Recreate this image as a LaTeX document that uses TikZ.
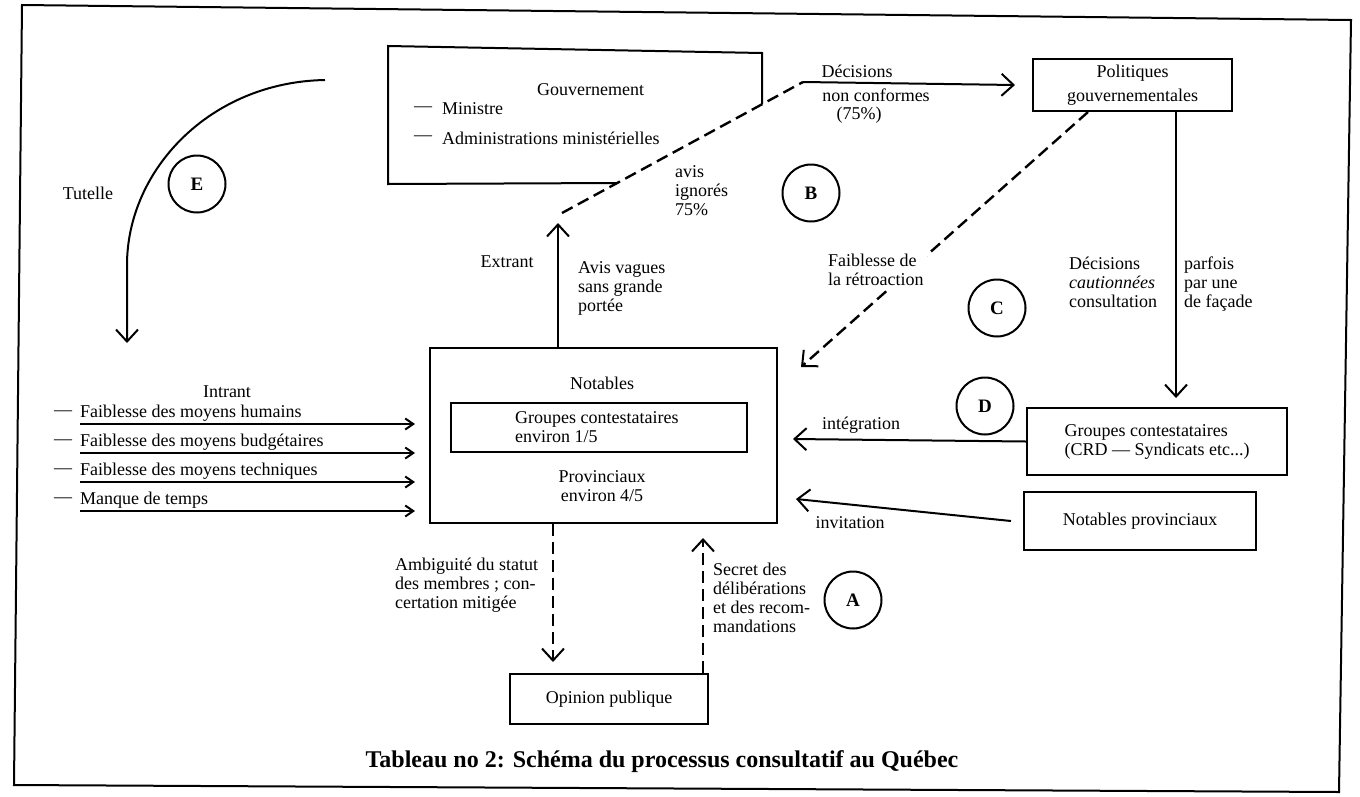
\documentclass[tikz,border=0pt]{standalone}
\usepackage{fontspec}
\setmainfont{Liberation Serif}
\usetikzlibrary{arrows.meta}
\begin{document}
\begin{tikzpicture}[x=1pt,y=-1pt,
  every node/.style={font=\fontsize{18}{19}\selectfont, inner sep=0pt},
  box/.style={draw, line width=2pt},
  dsh/.style={line width=2.4pt, dash pattern=on 12pt off 6pt},
  sline/.style={line width=2pt},
  barb/.style={-{Straight Barb[length=12pt,width=22pt,line width=2pt]}},
  smallbarb/.style={-{Straight Barb[length=8pt,width=11pt,line width=2pt]}},
  circ/.style={draw, circle, line width=2pt, minimum size=57pt, font=\fontsize{19}{20}\selectfont\bfseries}
]
\useasboundingbox (0,0) rectangle (1360,796);
% frame
\draw[line width=2pt] (22,5) -- (1351,20) -- (1339,792) -- (14,785) -- cycle;

% Tutelle
\coordinate (tutS) at (325,80);
\coordinate (tutE) at (127,343);
\draw[sline, barb] (tutS) .. controls (210,82) and (127,170) .. (127,265) -- (tutE);
\node[circ] (E) at (197,184) {E};
\node (tutelle) at (88,193) {Tutelle};

% Gouvernement
\node[anchor=west] (gouv) at (537,90) {Gouvernement};
\node[anchor=west] (dmin) at (414,109) {—};
\node[anchor=west] (min) at (442,109) {Ministre};
\node[anchor=west] (dadm) at (414,138) {—};
\node[anchor=west] (adm) at (442,138) {Administrations ministérielles};
\draw[line width=2pt] (617,183) -- (388,184) -- (388,46) -- (762,53) -- (762,104);

% Politiques
\node[box, minimum width=199pt, minimum height=52pt, align=center, font=\fontsize{18}{24}\selectfont] (pol) at (1132.5,85) {Politiques\\gouvernementales};

% dashed B line and Decisions arrow
\coordinate (dstart) at (562,213);
\coordinate (bend) at (803,82);
\draw[dsh] (dstart) -- (bend);
\draw[sline, barb] (bend) -- ([xshift=-17pt]pol.west);
\node (dec) at (857,71) {Décisions};
\node (nonc) at (876,95) {non conformes};
\node (p75) at (859,115) {(75\%)};
\node[circ] (B) at (811,193) {B};
\node[anchor=north west, align=left] (avis) at (675,165) {avis\\ignorés\\75\%};

% Notables box
\node[box, minimum width=347pt, minimum height=175pt] (not) at (603.5,435.5) {};
\node (nottxt) at (602,383) {Notables};
\node[box, minimum width=296pt, minimum height=49pt] (grin) at (599,427.5) {};
\node[anchor=north west, align=left] (grintxt) at (515,411) {Groupes contestataires\\environ 1/5};
\node[anchor=north, align=center] (prov) at (602,470) {Provinciaux\\environ 4/5};

% Extrant
\coordinate (extTip) at (558,223);
\draw[sline, barb] (extTip |- not.north) -- (extTip);
\node (extrant) at (507,262) {Extrant};
\node[anchor=north west, align=left] (avisv) at (578,261) {Avis vagues\\sans grande\\portée};

% feedback
\coordinate (fbT) at (801,367);
\draw[dsh, barb] ([xshift=-44.5pt]pol.south) -- (fbT);
\node[anchor=north west, align=left, fill=white, inner sep=3pt] (faib) at (825,251) {Faiblesse de\\la rétroaction};
\node[circ] (C) at (997,308) {C};

% Groupes contestataires (right)
\node[box, minimum width=260pt, minimum height=67pt, align=left] (gr) at (1157,441.5) {Groupes contestataires\\(CRD — Syndicats etc...)};
\coordinate (vtip) at (1176,398);
\draw[sline, barb] (vtip |- pol.south) -- (vtip);
\node[anchor=north west, align=left] (dc) at (1069,257) {Décisions\\\textit{cautionnées}\\consultation};
\node[anchor=north west, align=left] (parf) at (1184,257) {parfois\\par une\\de façade};
\node[circ] (D) at (985,406) {D};
\coordinate (itip) at (793,439);
\draw[sline, barb] (gr.west) -- (itip);
\node (integ) at (861,425) {intégration};

% Notables provinciaux
\node[box, minimum width=232pt, minimum height=58pt] (np) at (1140,521) {Notables provinciaux};
\coordinate (ivtip) at (796,499);
\draw[sline, barb] ([xshift=-12pt]np.west) -- (ivtip);
\node (invit) at (850,523) {invitation};

% Opinion publique
\node[box, minimum width=198pt, minimum height=50pt] (op) at (609,699) {Opinion publique};
\coordinate (amtip) at (553,662);
\draw[dsh, barb] (amtip |- not.south) -- (amtip);
\node[anchor=north west, align=left] (ambi) at (395,558) {Ambiguité du statut\\des membres ; con-\\certation mitigée};
\coordinate (sctip) at (703,538);
\draw[dsh, barb] (sctip |- op.north) -- (sctip);
\node[anchor=north west, align=left] (secret) at (713,563) {Secret des\\délibérations\\et des recom-\\mandations};
\node[circ] (A) at (853,600) {A};

% Intrant
\node (intrant) at (227,392) {Intrant};
\node[anchor=west] (d1) at (54,413) {—};
\node[anchor=west] (t1) at (80,413) {Faiblesse des moyens humains};
\node[anchor=west] (d2) at (54,442) {—};
\node[anchor=west] (t2) at (80,442) {Faiblesse des moyens budgétaires};
\node[anchor=west] (d3) at (54,471) {—};
\node[anchor=west] (t3) at (80,471) {Faiblesse des moyens techniques};
\node[anchor=west] (d4) at (54,500) {—};
\node[anchor=west] (t4) at (80,500) {Manque de temps};
\coordinate (i1) at (415,424);
\coordinate (i2) at (415,453);
\coordinate (i3) at (415,482);
\coordinate (i4) at (415,511);
\draw[sline, smallbarb] (t1.west |- i1) -- (i1);
\draw[sline, smallbarb] (t2.west |- i2) -- (i2);
\draw[sline, smallbarb] (t3.west |- i3) -- (i3);
\draw[sline, smallbarb] (t4.west |- i4) -- (i4);

% caption
\node[font=\fontsize{24}{26}\selectfont\bfseries] (cap) at (662,762) {Tableau no 2: Schéma du processus consultatif au Québec};
\end{tikzpicture}
\end{document}
